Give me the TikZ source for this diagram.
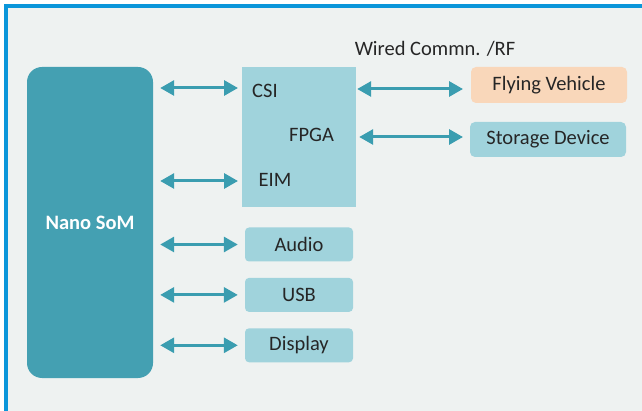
\documentclass[tikz,border=0pt]{standalone}
\usepackage{fontspec}
\setmainfont{Carlito}
\usetikzlibrary{positioning,arrows.meta}
\definecolor{som-teal}{HTML}{44A0B2}
\definecolor{port-blue}{HTML}{A0D3DC}
\definecolor{fly-peach}{HTML}{F9D7BA}
\definecolor{link-teal}{HTML}{3A9DB0}
\definecolor{frame-blue}{HTML}{0A96DA}
\definecolor{page-grey}{HTML}{EEF2F1}
\definecolor{label-grey}{HTML}{262626}
\tikzset{
    som-box/.style = {fill=som-teal, rectangle, rounded corners=15pt, inner sep=0pt, text=white, font=\fontsize{20.5}{24}\selectfont\bfseries},
    fpga-box/.style = {fill=port-blue, rectangle, inner sep=0pt},
    port-box/.style = {fill=port-blue, rectangle, rounded corners=4pt, inner sep=0pt, minimum width=108pt, minimum height=34pt, text=label-grey, font=\fontsize{20.5}{24}\selectfont},
    dev-box/.style = {rectangle, rounded corners=5pt, inner sep=0pt, minimum width=156pt, minimum height=36pt, text=label-grey, font=\fontsize{20.5}{24}\selectfont},
    plain-label/.style = {inner sep=0pt, text=label-grey, font=\fontsize{20.5}{24}\selectfont},
    link-arrow/.style = {draw=link-teal, line width=3pt, {Triangle[length=14pt,width=15pt]}-{Triangle[length=14pt,width=15pt]}, shorten <=7pt, shorten >=5pt},
}

\begin{document}
\begin{tikzpicture}[x=1pt, y=-1pt]
\useasboundingbox (0,0) rectangle (642,411);
\fill[page-grey] (4,4) rectangle (642,411);
\draw[frame-blue, line width=4pt] (6,411) -- (6,6) -- (642,6);

\node[som-box, minimum width=126pt, minimum height=311pt] (som) at (90,222.5) {Nano SoM};
\node[fpga-box, minimum width=114pt, minimum height=140pt] (fpga) at (299,137) {};
\node[plain-label] (csi) at (265,91) {CSI};
\node[plain-label] (fpga-name) at (311.5,134.5) {FPGA};
\node[plain-label] (eim) at (275,180) {EIM};
\coordinate (csi-port) at (242,88);
\coordinate (eim-port) at (242,181);

\node[dev-box, fill=fly-peach] (fly) at (549,85) {Flying Vehicle};
\node[dev-box, fill=port-blue, minimum height=35pt] (store) at (548,139.5) {Storage Device};
\node[plain-label] (wired) at (435,49) {Wired Commn. /RF};
\coordinate (fly-port) at (471,89);
\coordinate (store-port) at (470,137);

\node[port-box] (audio) at (299,244.5) {Audio};
\node[port-box, below=16pt of audio] (usb) {USB};
\node[port-box, below=16pt of usb] (display) {Display};

\draw[link-arrow, shorten >=4pt] (som.east |- csi-port) -- (csi-port);
\draw[link-arrow, shorten >=4pt] (som.east |- eim-port) -- (eim-port);
\draw[link-arrow, shorten <=1pt, shorten >=8pt] (fpga.east |- fly-port) -- (fly-port);
\draw[link-arrow, shorten <=3pt, shorten >=7pt] (fpga.east |- store-port) -- (store-port);
\draw[link-arrow, shorten >=7pt] (som.east |- audio) -- (audio.west);
\draw[link-arrow, shorten >=7pt] (som.east |- usb) -- (usb.west);
\draw[link-arrow, shorten >=7pt] (som.east |- display) -- (display.west);
\end{tikzpicture}
\end{document}
